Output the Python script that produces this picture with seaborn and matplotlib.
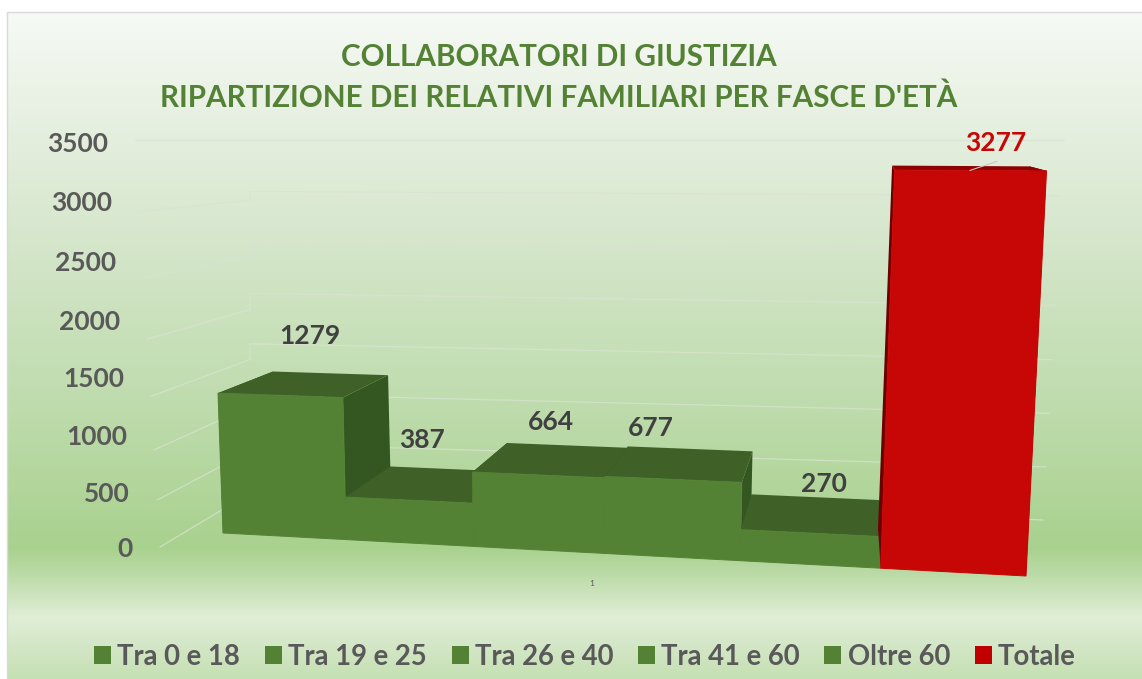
import numpy as np
import matplotlib
matplotlib.use("Agg")
import matplotlib.pyplot as plt
from matplotlib.patches import Patch, Polygon
from matplotlib.transforms import Transform, Affine2D, IdentityTransform
from matplotlib.colors import to_rgb
import seaborn as sns

categories = ["Tra 0 e 18", "Tra 19 e 25", "Tra 26 e 40", "Tra 41 e 60", "Oltre 60", "Totale"]
values = [1279, 387, 664, 677, 270, 3277]
y_ticks = [0, 500, 1000, 1500, 2000, 2500, 3000, 3500]
title_lines = ["COLLABORATORI DI GIUSTIZIA", "RIPARTIZIONE DEI RELATIVI FAMILIARI PER FASCE D'ETÀ"]

GREEN, GREEN_TOP, GREEN_SIDE = "#548235", "#3f6128", "#345620"
RED, RED_TOP, RED_SIDE = "#c70606", "#8c0000", "#6f0000"
front_colors = [GREEN] * 5 + [RED]
top_colors = [GREEN_TOP] * 5 + [RED_TOP]
side_colors = [GREEN_SIDE] * 5 + [RED_SIDE]
TEXT = "#595959"
LABEL = "#404040"
W, H = 1142, 679
YMAX = y_ticks[-1]

sns.set_theme(style="white")
plt.rcParams["font.family"] = ["Lato", "DejaVu Sans"]


def homography(c00, c10, c01, c11):
    """3x3 map from the unit square (u, v) to picture pixels."""
    src = [(0, 0), (1, 0), (0, 1), (1, 1)]
    dst = [c00, c10, c01, c11]
    A, b = [], []
    for (u, v), (x, y) in zip(src, dst):
        A.append([u, v, 1, 0, 0, 0, -u * x, -v * x]); b.append(x)
        A.append([0, 0, 0, u, v, 1, -u * y, -v * y]); b.append(y)
    return np.append(np.linalg.solve(np.array(A, float), np.array(b, float)), 1).reshape(3, 3)


def apply_h(M, u, v):
    p = M @ np.vstack([u, v, np.ones_like(u)])
    return np.column_stack([p[0] / p[2], H - p[1] / p[2]])


FRONT = homography((223, 533), (1026, 576), (209, 140), (1048, 142))
BACK = homography((278, 500), (1009, 535), (264, 138), (1031, 140))
WALL = homography((250, 493), (1043, 520), (250, 140), (1064, 140))
SIDE = homography((160, 547), (250, 493), (135, 140), (250, 140))


class Persp(Transform):
    """Category position and value to pixels on one plane of the 3D box."""
    input_dims = output_dims = 2
    is_separable = False
    has_inverse = False

    def __init__(self, M):
        super().__init__()
        self.M = M

    def transform_non_affine(self, xy):
        xy = np.asarray(xy, float)
        return apply_h(self.M, (xy[:, 0] + 0.5) / len(categories), xy[:, 1] / YMAX)


front_tf = Persp(FRONT)
back_tf = Persp(BACK)

fig = plt.figure(figsize=(W / 100, H / 100), dpi=100, facecolor="white")

# backdrop
bg = fig.add_axes([0, 0, 1, 1], zorder=-1)
stops_y = [12, 60, 230, 400, 548, 575, 618, 640, 679]
stops_c = ["#f7faf6", "#eff5ec", "#d7e7cd", "#bfdcae", "#a9d18e", "#bcdba8", "#e0eed6", "#d6e8ca", "#c5e0b3"]
rows = np.arange(12, H + 1)
grad = np.stack([np.interp(rows, stops_y, [to_rgb(c)[k] for c in stops_c]) for k in range(3)], axis=1)
bg.imshow(grad[:, None, :], extent=(7, W, H, 12), aspect="auto", interpolation="bilinear")
bg.plot([7, 7, W], [H, 12, 12], color="#d9d9d9", lw=1)
bg.set_xlim(0, W); bg.set_ylim(H, 0); bg.axis("off")

# main axes: real value axis, running from the 0 tick to the 3500 tick
ax = fig.add_axes([135 / W, 1 - 547 / H, (1064 - 135) / W, (547 - 142) / H])
ax.patch.set_visible(False)
sns.barplot(x=categories, y=values, hue=categories, palette=front_colors, order=categories,
            hue_order=categories, dodge=False, width=1, legend=False, saturation=1, ax=ax)
ax.set_xlim(-0.5, len(categories) - 0.5)
ax.set_ylim(0, YMAX)
ax.set_xticks([])
ax.set_xlabel(""); ax.set_ylabel("")
sns.despine(ax=ax, left=True, bottom=True)
ax.grid(False)

# gridlines along side wall and back wall
ident = IdentityTransform()
for t in y_ticks:
    v = np.array([t / YMAX, t / YMAX])
    s = apply_h(SIDE, np.array([0.0, 1.0]), v)
    w = apply_h(WALL, np.array([0.0, 1.0]), v)
    pts = np.vstack([s, w])
    ax.plot(pts[:, 0], pts[:, 1], color="#d9e3d3", lw=0.9, alpha=0.75, transform=ident,
            clip_on=False, zorder=0.5)

# bars: the front faces are seaborn's rectangles, the other faces follow from them
bars = sorted(ax.patches, key=lambda b: b.get_x())
for i, bar in enumerate(bars):
    x0, x1 = bar.get_x(), bar.get_x() + bar.get_width()
    top = bar.get_height()
    bar.set_transform(front_tf)
    bar.set_clip_on(False)
    bar.set_edgecolor(front_colors[i])
    bar.set_linewidth(0.7)
    bar.set_zorder(3 * i + 3)
    f = front_tf.transform_non_affine(np.array([[x0, 0], [x1, 0], [x1, top], [x0, top]], float))
    b = back_tf.transform_non_affine(np.array([[x0, 0], [x1, 0], [x1, top], [x0, top]], float))
    for face, col in (
        ([f[0], f[3], b[3], b[0]], side_colors[i]),
        ([f[1], f[2], b[2], b[1]], side_colors[i]),
        ([f[3], f[2], b[2], b[3]], top_colors[i]),
    ):
        ax.add_patch(Polygon(face, closed=True, facecolor=col, edgecolor="none",
                             transform=ident, clip_on=False, zorder=3 * i + 2))

# value labels
label_shift = [(30, 59), (13, 60), (13, 53), (-22, 51), (13, 49), (26, 27)]
for i, (bar, val) in enumerate(zip(bars, values)):
    ax.annotate(str(val), xy=(bar.get_x() + 0.5, val), xycoords=front_tf,
                xytext=label_shift[i], textcoords="offset pixels", ha="center", va="center",
                fontsize=19, fontweight="bold", color=RED if i == 5 else LABEL,
                zorder=40, annotation_clip=False)
# leader line of the total
ax.annotate("", xy=(bars[5].get_x() + 0.5, values[5]), xycoords=front_tf,
            xytext=(27, 9), textcoords="offset pixels",
            arrowprops=dict(arrowstyle="-", color="#c9c9c9", lw=0.8, shrinkA=0, shrinkB=0),
            zorder=39, annotation_clip=False)

ax.text(592, H - 584, "1", transform=ident, fontsize=6, color=TEXT, ha="center", va="center")

# value axis labels, stepped along the slanted side wall
ax.set_yticks(y_ticks)
ax.set_yticklabels([str(t) for t in y_ticks], fontsize=19, fontweight="bold", color=TEXT)
ax.tick_params(axis="y", length=0, pad=0)
tick_drop = [0, 3, 4, 4, 4, 3, 1, 0]
fig.canvas.draw()
for t, lab, dy in zip(y_ticks, ax.get_yticklabels(), tick_drop):
    left = apply_h(SIDE, np.array([0.0]), np.array([t / YMAX]))[0, 0]
    lab.set_transform(lab.get_transform() + Affine2D().translate(left - 27 - 135, -dy))

fig.text(559 / W, 1 - 57 / H, title_lines[0], ha="center", va="center", fontsize=21.3,
         fontweight="bold", color=GREEN)
fig.text(559 / W, 1 - 98 / H, title_lines[1], ha="center", va="center", fontsize=21.3,
         fontweight="bold", color=GREEN)

handles = [Patch(facecolor=c, edgecolor="none") for c in ["#548235"] * 5 + ["#c00000"]]
fig.legend(handles, categories, ncol=6, loc="center", bbox_to_anchor=(585 / W, 1 - 657 / H),
           frameon=False, handlelength=0.62, handleheight=0.62, handletextpad=0.22,
           columnspacing=0.9, labelcolor=TEXT, prop=dict(family="Lato", weight="bold", size=19.8))

fig.savefig("out.png", dpi=100)
